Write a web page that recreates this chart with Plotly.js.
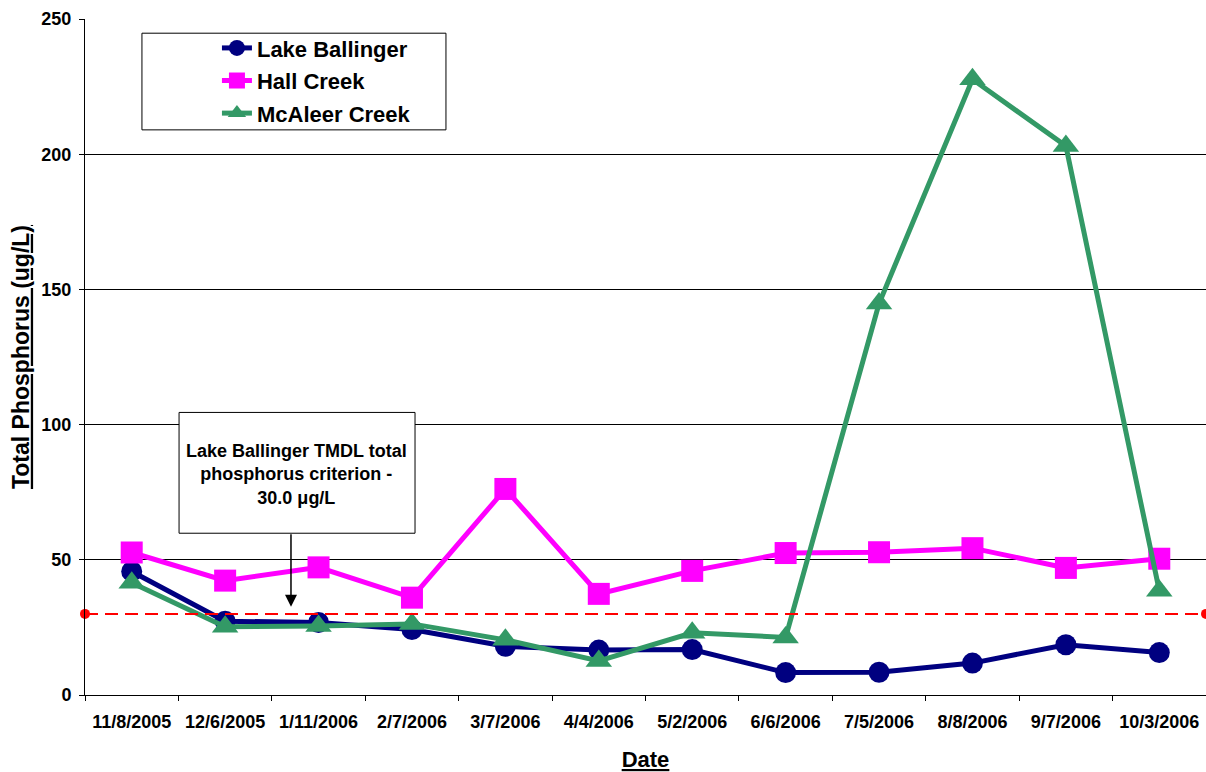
<!DOCTYPE html>
<html>
<head>
<meta charset="utf-8">
<script src="https://cdn.plot.ly/plotly-3.0.1.min.js"></script>
<style>html,body{margin:0;padding:0;background:#fff;}#chart{width:1206px;height:772px;}</style>
</head>
<body>
<div id="chart"></div>
<script>
const dates = ['11/8/2005','12/6/2005','1/11/2006','2/7/2006','3/7/2006','4/4/2006','5/2/2006','6/6/2006','7/5/2006','8/8/2006','9/7/2006','10/3/2006'];
const lakeBallinger = [45.7, 27.3, 26.8, 24.2, 18.0, 16.6, 16.8, 8.3, 8.4, 11.8, 18.6, 15.7];
const hallCreek = [52.7, 42.3, 47.2, 36.0, 76.2, 37.4, 45.9, 52.5, 52.8, 54.3, 47.0, 50.4];
const mcAleerCreek = [41.5, 25.2, 25.5, 26.3, 20.4, 12.6, 23.0, 21.3, 144.8, 227.7, 203.0, 38.6];
const criterion = 30.0;
const criterionLabel = 'Lake Ballinger TMDL total<br>phosphorus criterion -<br>30.0 μg/L';

const FONT = 'Arial, "Liberation Sans", sans-serif';

const traces = [
  {x: dates, y: lakeBallinger, name: 'Lake Ballinger', type: 'scatter', mode: 'lines+markers',
   line: {color: '#000080', width: 5}, marker: {symbol: 'circle', size: 21, color: '#000080'},
   legendgroup: 'a'},
  {x: dates, y: hallCreek, name: 'Hall Creek', type: 'scatter', mode: 'lines+markers',
   line: {color: '#FF00FF', width: 5}, marker: {symbol: 'square', size: 22, color: '#FF00FF'},
   legendgroup: 'b'},
  {x: dates, y: mcAleerCreek, name: 'McAleer Creek', type: 'scatter', mode: 'lines+markers',
   line: {color: '#339966', width: 5}, marker: {symbol: 'triangle-up', size: 23, color: '#339966'},
   legendgroup: 'c'},
  {x: [0, 1], y: [criterion, criterion], xaxis: 'x2', type: 'scatter', mode: 'lines+markers',
   line: {color: '#FF0000', width: 2, dash: '13px,7px'}, marker: {size: 10, color: '#FF0000'},
   showlegend: false, cliponaxis: false, hoverinfo: 'skip'}
];

const layout = {
  width: 1206, height: 772,
  margin: {l: 85, r: 0, t: 19, b: 77},
  paper_bgcolor: '#ffffff', plot_bgcolor: '#ffffff',
  font: {family: FONT, color: '#000000', size: 18, weight: 'bold'},
  showlegend: true,
  legend: {x: 0.1177, y: 0.988, xanchor: 'left', yanchor: 'top', bgcolor: 'rgba(0,0,0,0)',
           borderwidth: 0, font: {size: 22, family: FONT, weight: 'bold'},
           traceorder: 'grouped', tracegroupgap: 1},
  xaxis: {type: 'category', range: [-0.5, 11.5], tickson: 'boundaries', ticks: 'outside', ticklen: 5, tickcolor: '#000',
          showline: true, linecolor: '#000', linewidth: 1, showgrid: false, zeroline: false,
          tickfont: {size: 18, family: FONT, weight: 'bold'}, automargin: false, ticklabelstandoff: 10,
          title: {text: '<u>Date</u>', font: {size: 22, family: FONT, weight: 'bold'}, standoff: 22}},
  xaxis2: {overlaying: 'x', range: [0, 1], visible: false, fixedrange: true},
  yaxis: {range: [0, 250], dtick: 50, tick0: 0, ticks: 'outside', ticklen: 5, tickcolor: '#000',
          showline: true, linecolor: '#000', linewidth: 1, showgrid: true, gridcolor: '#000',
          gridwidth: 1, zeroline: false, automargin: false, ticklabelstandoff: 4,
          tickfont: {size: 18, family: FONT, weight: 'bold'},
          title: {text: '<u>Total Phosphorus (ug/L)</u>', font: {size: 23, family: FONT, weight: 'bold'}, standoff: 5}},
  shapes: [
    {type: 'rect', xref: 'paper', yref: 'paper', x0: 0.0508, x1: 0.322, y0: 0.836, y1: 0.979,
     line: {color: '#000', width: 1}, fillcolor: '#ffffff', layer: 'below'},
    {type: 'rect', xref: 'paper', yref: 'paper', x0: 0.0839, x1: 0.2944, y0: 0.2393, y1: 0.418,
     line: {color: '#000', width: 1}, fillcolor: '#ffffff', layer: 'above'}
  ],
  annotations: [
    {xref: 'paper', yref: 'paper', x: 0.189, y: 0.3264, xanchor: 'center', yanchor: 'middle',
     text: criterionLabel, showarrow: false, align: 'center',
     font: {size: 18, family: FONT, weight: 'bold', color: '#000'}},
    {xref: 'x', yref: 'y', x: 1.705, y: 32.6, ax: 0, ay: -74, text: '', showarrow: true,
     arrowhead: 2, arrowsize: 1.6, arrowwidth: 1.5, arrowcolor: '#000', standoff: 0}
  ]
};

Plotly.newPlot('chart', traces, layout, {displayModeBar: false, staticPlot: true});
</script>
</body>
</html>
